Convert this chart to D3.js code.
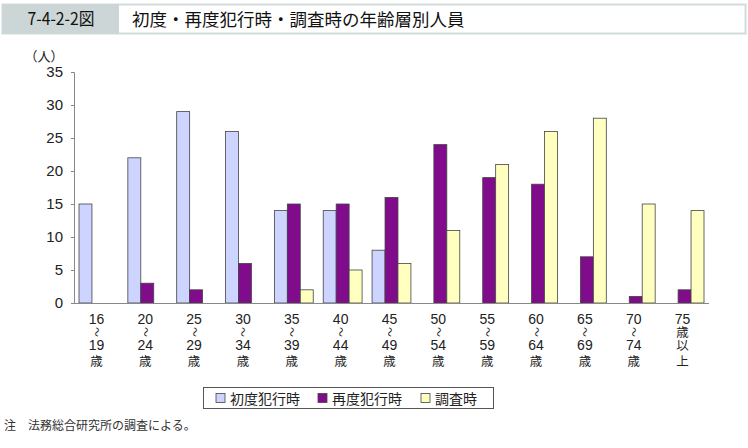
<!DOCTYPE html>
<html><head><meta charset="utf-8">
<script src="https://cdn.jsdelivr.net/npm/d3@7"></script>
<style>body{margin:0;background:#fff;} svg{display:block;}</style>
</head><body>
<svg id="c" width="748" height="448"></svg>
<script>
const categories = [
  ["16","～","19","歳"],["20","～","24","歳"],["25","～","29","歳"],["30","～","34","歳"],
  ["35","～","39","歳"],["40","～","44","歳"],["45","～","49","歳"],["50","～","54","歳"],
  ["55","～","59","歳"],["60","～","64","歳"],["65","～","69","歳"],["70","～","74","歳"],
  ["75","歳","以","上"]
];
const seriesNames = ["初度犯行時","再度犯行時","調査時"];
const firstOffense = [15,22,29,26,14,14,8,0,0,0,0,0,0];
const repeatOffense = [0,3,2,6,15,15,16,24,19,18,7,1,2];
const survey = [0,0,0,0,2,5,6,11,21,26,28,15,14];
const yTicks = [0,5,10,15,20,25,30,35];
const colors = ["#ccd4ff","#800c8c","#ffffc0"];
const font = "'Liberation Sans', Arial, sans-serif";
const jfont = "'Noto Sans CJK JP', sans-serif";

const svg = d3.select("#c");
// header
svg.append("rect").attr("x",2.5).attr("y",4.5).attr("width",743).attr("height",29)
  .attr("fill","#fff").attr("stroke","#d3dcdc").attr("stroke-width",2);
svg.append("rect").attr("x",2).attr("y",4).attr("width",117).attr("height",30).attr("fill","#cdd6d6");
svg.append("text").attr("x",61).attr("y",25.5).attr("text-anchor","middle")
  .attr("font-family",jfont).attr("font-size",17.5).attr("fill","#111")
  .attr("transform","translate(61,0) scale(0.9,1) translate(-61,0)")
  .text("7-4-2-2図");
svg.append("text").attr("x",132).attr("y",25.5).attr("font-family",jfont).attr("font-size",17.5)
  .attr("fill","#111").text("初度・再度犯行時・調査時の年齢層別人員");

const x0 = 74, x1 = 709, yTop = 72, yBot = 303;
const x = d3.scaleBand().domain(d3.range(categories.length)).range([x0,x1]).paddingInner(0).paddingOuter(0);
const y = d3.scaleLinear().domain([0,35]).range([yBot,yTop]);
const inner = d3.scaleBand().domain(d3.range(3)).range([5, x.bandwidth()-5]);

const data = [firstOffense, repeatOffense, survey];
const g = svg.append("g");
data.forEach((vals,s)=>{
  g.selectAll(null).data(vals.map((v,i)=>({v,i}))).enter().filter(d=>d.v>0).append("rect")
    .attr("x",d=>x(d.i)+inner(s)).attr("width",inner.bandwidth())
    .attr("y",d=>y(d.v)).attr("height",d=>y(0)-y(d.v))
    .attr("fill",colors[s]).attr("stroke","#444").attr("stroke-width",0.8);
});

// y axis
const yAxis = d3.axisLeft(y).tickValues(yTicks).tickSize(3).tickPadding(8);
const ya = svg.append("g").attr("transform",`translate(${x0},0)`).call(yAxis);
ya.select(".domain").attr("stroke","#888");
ya.selectAll(".tick line").attr("stroke","#888");
ya.selectAll(".tick text").attr("font-family",font).attr("font-size",15).attr("fill","#222");
// baseline
svg.append("line").attr("x1",x0).attr("x2",x1).attr("y1",yBot+0.5).attr("y2",yBot+0.5).attr("stroke","#888");
svg.append("text").attr("x",44).attr("y",61).attr("text-anchor","middle").attr("font-family",jfont)
  .attr("font-size",13).attr("fill","#222").text("（人）");

// x labels: one text per category, lines as tspans (line centres)
const lineC = [319, 332, 345, 361];
categories.forEach((lab,i)=>{
  const cx = x(i)+x.bandwidth()/2 - 2;
  const t = svg.append("text").attr("text-anchor","middle").attr("fill","#222")
    .attr("font-family",jfont);
  lab.forEach((s,k)=>{
    const isNum = /^[0-9]+$/.test(s);
    if (s==="～") {
      t.append("tspan").attr("x",cx+1.5).attr("y",lineC[k]-5)
        .attr("rotate",90).attr("font-size",10).text(s);
    } else {
      t.append("tspan").attr("x",cx).attr("y",lineC[k] + (isNum?5:4.8))
        .attr("font-family", isNum ? font : jfont)
        .attr("font-size", isNum?14:12.5).text(s);
    }
  });
});

// legend
svg.append("rect").attr("x",203.5).attr("y",387.5).attr("width",290).attr("height",21)
  .attr("fill","#fff").attr("stroke","#555");
const legX = [216, 318, 421];
seriesNames.forEach((n,s)=>{
  svg.append("rect").attr("x",legX[s]).attr("y",393.5).attr("width",9).attr("height",9)
    .attr("fill",colors[s]).attr("stroke","#444").attr("stroke-width",0.8);
  svg.append("text").attr("x",legX[s]+14).attr("y",403.5).attr("font-family",jfont)
    .attr("font-size",14).attr("fill","#222").text(n);
});

// footnote
svg.append("text").attr("x",4).attr("y",430).attr("font-family",jfont).attr("font-size",12)
  .attr("fill","#333").text("注　法務総合研究所の調査による。");
</script>
</body></html>
